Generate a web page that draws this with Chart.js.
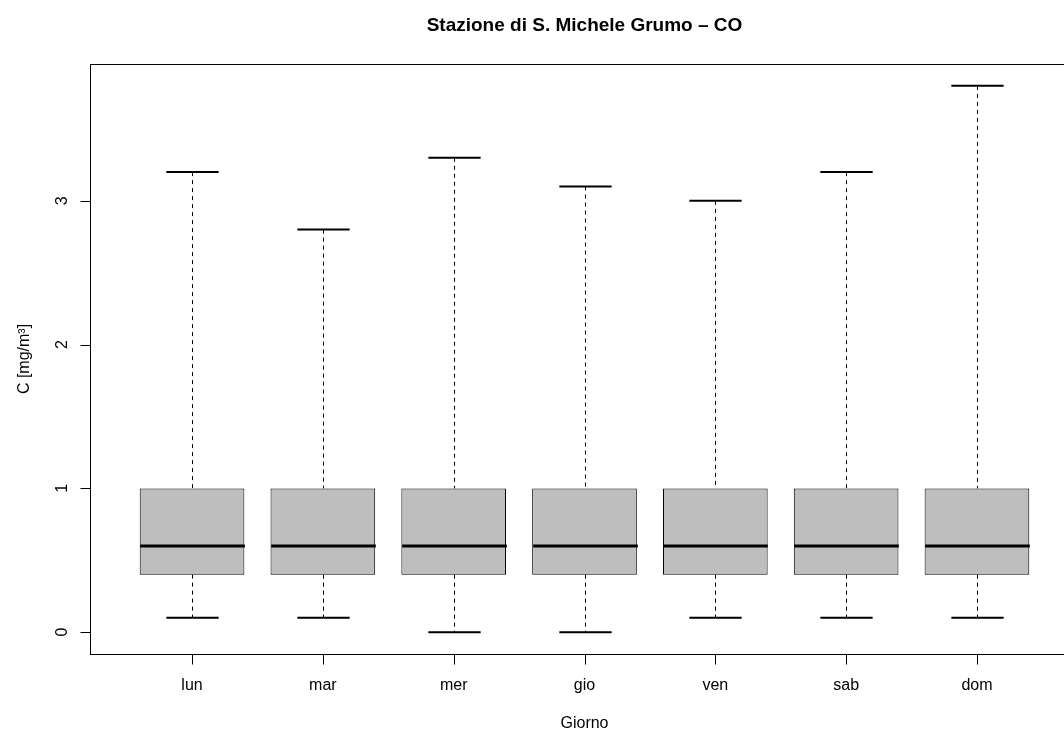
<!DOCTYPE html>
<html>
<head>
<meta charset="utf-8">
<script src="https://cdn.jsdelivr.net/npm/chart.js@4/dist/chart.umd.min.js"></script>
<style>
html, body { margin: 0; padding: 0; overflow: hidden; background: #fff; }
canvas { display: block; }
</style>
</head>
<body>
<canvas id="c" width="1120" height="731"></canvas>
<script>
const giorni = ['lun', 'mar', 'mer', 'gio', 'ven', 'sab', 'dom'];
const baffoInf = [0.1, 0.1, 0.0, 0.0, 0.1, 0.1, 0.1];
const q1 = [0.4, 0.4, 0.4, 0.4, 0.4, 0.4, 0.4];
const mediana = [0.6, 0.6, 0.6, 0.6, 0.6, 0.6, 0.6];
const q3 = [1.0, 1.0, 1.0, 1.0, 1.0, 1.0, 1.0];
const baffoSup = [3.2, 2.8, 3.3, 3.1, 3.0, 3.2, 3.8];
const yTicks = [0, 1, 2, 3];

const titolo = 'Stazione di S. Michele Grumo \u2013 CO';
const xTitolo = 'Giorno';
const yTitolo = 'C [mg/m\u00b3]';
const FONT = "'Liberation Sans', Arial, Helvetica, sans-serif";

const W = 1120, H = 731;

// caselle: floating bar q1..q3
const boxData = giorni.map((g, i) => ({ x: i + 1, y: [q1[i], q3[i]] }));

const boxplotPlugin = {
    id: 'boxplot',
    afterDatasetsDraw(chart) {
        const ctx = chart.ctx;
        const xs = chart.scales.x, ys = chart.scales.y;
        const meta = chart.getDatasetMeta(0);
        ctx.save();
        ctx.strokeStyle = '#000';
        giorni.forEach((g, i) => {
            const bar = meta.data[i];
            const half = bar.width / 2;
            const xc = Math.round(xs.getPixelForValue(i + 1)) + 0.5;
            const yHi = ys.getPixelForValue(baffoSup[i]);
            const yLo = ys.getPixelForValue(baffoInf[i]);
            const yQ1 = ys.getPixelForValue(q1[i]);
            const yQ3 = ys.getPixelForValue(q3[i]);
            const yMed = ys.getPixelForValue(mediana[i]);

            // baffi tratteggiati
            ctx.lineWidth = 1;
            ctx.setLineDash([4, 4]);
            ctx.beginPath();
            ctx.moveTo(xc, yHi);
            ctx.lineTo(xc, yQ3);
            ctx.moveTo(xc, yQ1);
            ctx.lineTo(xc, yLo);
            ctx.stroke();
            ctx.setLineDash([]);

            // stanghette
            ctx.lineWidth = 2;
            ctx.beginPath();
            ctx.moveTo(xc - half / 2, yHi);
            ctx.lineTo(xc + half / 2, yHi);
            ctx.moveTo(xc - half / 2, yLo);
            ctx.lineTo(xc + half / 2, yLo);
            ctx.stroke();

            // mediana
            ctx.lineWidth = 3;
            ctx.beginPath();
            ctx.moveTo(xc - half, yMed);
            ctx.lineTo(xc + half, yMed);
            ctx.stroke();
        });
        ctx.restore();
    },
    afterDraw(chart) {
        const ctx = chart.ctx;
        const a = chart.chartArea;
        const xs = chart.scales.x, ys = chart.scales.y;
        ctx.save();
        ctx.strokeStyle = '#000';
        ctx.lineWidth = 1;

        // cornice
        ctx.strokeRect(Math.round(a.left) + 0.5, Math.round(a.top) + 0.5,
            Math.round(a.right - a.left), Math.round(a.bottom - a.top));

        ctx.fillStyle = '#000';
        ctx.font = '16px ' + FONT;

        // asse y
        const xAx = Math.round(a.left) + 0.5;
        ctx.beginPath();
        ctx.moveTo(xAx, Math.round(ys.getPixelForValue(yTicks[0])) + 0.5);
        ctx.lineTo(xAx, Math.round(ys.getPixelForValue(yTicks[yTicks.length - 1])) + 0.5);
        yTicks.forEach(t => {
            const y = Math.round(ys.getPixelForValue(t)) + 0.5;
            ctx.moveTo(xAx, y);
            ctx.lineTo(xAx - 10, y);
        });
        ctx.stroke();
        ctx.textAlign = 'center';
        ctx.textBaseline = 'alphabetic';
        yTicks.forEach(t => {
            const y = ys.getPixelForValue(t);
            ctx.save();
            ctx.translate(67, y);
            ctx.rotate(-Math.PI / 2);
            ctx.fillText(String(t), 0, 0);
            ctx.restore();
        });

        // asse x
        const yAx = Math.round(a.bottom) + 0.5;
        ctx.beginPath();
        ctx.moveTo(Math.round(xs.getPixelForValue(1)) + 0.5, yAx);
        ctx.lineTo(Math.round(xs.getPixelForValue(giorni.length)) + 0.5, yAx);
        giorni.forEach((g, i) => {
            const x = Math.round(xs.getPixelForValue(i + 1)) + 0.5;
            ctx.moveTo(x, yAx);
            ctx.lineTo(x, yAx + 10);
        });
        ctx.stroke();
        giorni.forEach((g, i) => {
            ctx.fillText(g, xs.getPixelForValue(i + 1), 690);
        });

        // titoli assi
        ctx.fillText(xTitolo, (a.left + a.right) / 2, 728);
        ctx.save();
        ctx.translate(28.5, (a.top + a.bottom) / 2);
        ctx.rotate(-Math.PI / 2);
        ctx.fillText(yTitolo, 0, 0);
        ctx.restore();

        // titolo
        ctx.font = 'bold 19px ' + FONT;
        ctx.fillText(titolo, (a.left + a.right) / 2, 31);
        ctx.restore();
    }
};

new Chart(document.getElementById('c'), {
    type: 'bar',
    data: {
        datasets: [{
            data: boxData,
            backgroundColor: '#bebebe',
            borderColor: '#000',
            borderWidth: 1,
            borderSkipped: false,
            categoryPercentage: 1,
            barPercentage: 0.8
        }]
    },
    options: {
        responsive: false,
        animation: false,
        devicePixelRatio: 1,
        layout: { padding: { left: 90, top: 64, right: W - 1079, bottom: H - 654 } },
        scales: {
            x: {
                type: 'linear', min: 0.22, max: 7.78, offset: false, display: false,
                afterBuildTicks: s => { s.ticks = giorni.map((g, i) => ({ value: i + 1 })); }
            },
            y: { min: -0.152, max: 3.952, display: false }
        },
        plugins: {
            legend: { display: false },
            tooltip: { enabled: false },
            title: { display: false }
        }
    },
    plugins: [boxplotPlugin]
});
</script>
</body>
</html>
